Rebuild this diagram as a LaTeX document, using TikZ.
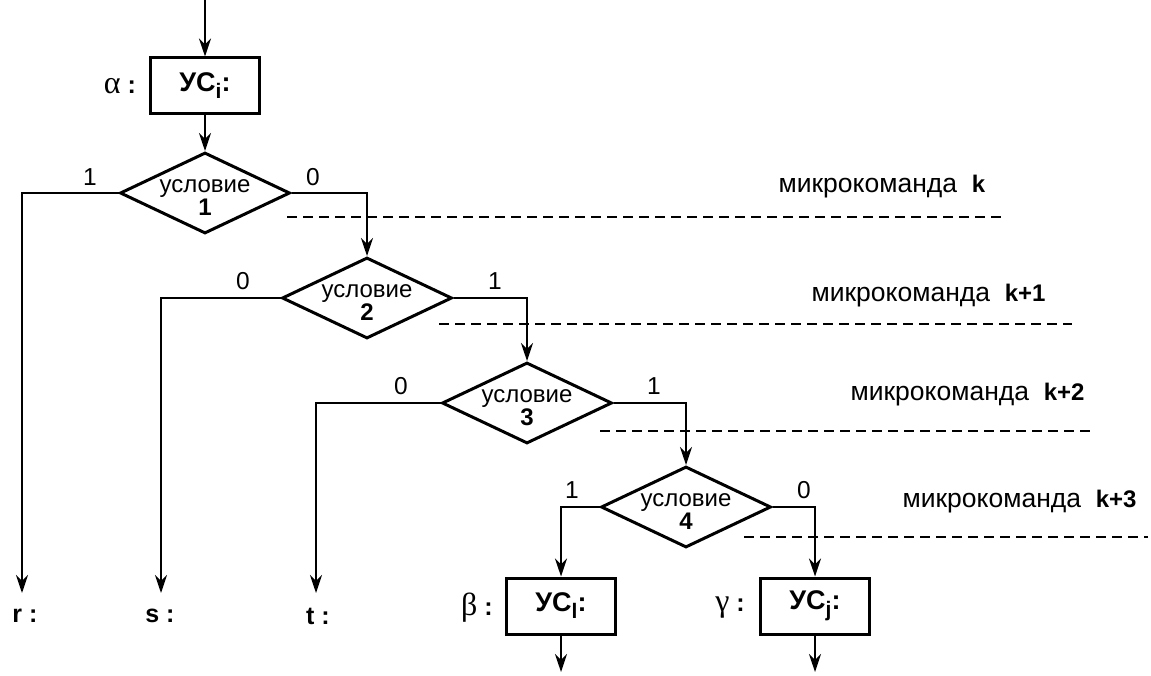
\documentclass[tikz,border=0pt]{standalone}
\usepackage{fontspec}
\setmainfont{Liberation Sans}
\newfontfamily\greekfont{Liberation Serif}
\usetikzlibrary{shapes.geometric,arrows.meta}

\newcommand{\lowsub}[1]{\raisebox{-7pt}{\fontsize{21}{21}\selectfont #1}}

\tikzset{
  cond/.style={diamond, draw, line width=3pt, minimum width=170pt,
    minimum height=81pt, inner sep=0pt},
  condtext/.style={align=center, font=\fontsize{24}{23}\selectfont, yshift=-5pt},
  ucbox/.style={rectangle, draw, line width=3pt, minimum width=109pt,
    minimum height=56pt, font=\fontsize{27}{27}\selectfont\bfseries},
  flow/.style={line width=1.7pt, -{Stealth[length=18pt,width=12pt,inset=6pt]}},
  bit/.style={font=\fontsize{24.5}{24}\selectfont},
  tag/.style={font=\fontsize{25}{25}\selectfont\bfseries},
  mk/.style={font=\fontsize{26.5}{26}\selectfont, anchor=west},
  cut/.style={line width=2pt, dash pattern=on 10pt off 6pt}
}

\begin{document}
\begin{tikzpicture}[x=1pt,y=-1pt]
\useasboundingbox (0,0) rectangle (1151,676);

% Entry block
\coordinate (in) at (205,0);
\node[ucbox] (ui) at (205,86) {УС\lowsub{i}:};
\node[tag] (alpha) at (120,86) {{\greekfont\mdseries\fontsize{32}{32}\selectfont α} :};
\draw[flow] (in) -- (ui.north);

% Condition 1
\node[cond, label={[condtext]center:{условие\\\textbf{1}}}] (c1) at (205,193) {};
\draw[flow] (ui.south) -- (c1.north);
\node[bit] (c1one) at (90,177) {1};
\node[bit] (c1zero) at (313,177) {0};

% Condition 2
\node[cond, label={[condtext]center:{условие\\\textbf{2}}}] (c2) at (367,298) {};
\node[bit] (c2zero) at (243,281) {0};
\node[bit] (c2one) at (495,281) {1};

% Condition 3
\node[cond, label={[condtext]center:{условие\\\textbf{3}}}] (c3) at (527,403) {};
\node[bit] (c3zero) at (401,386) {0};
\node[bit] (c3one) at (654,386) {1};

% Condition 4
\node[cond, label={[condtext]center:{условие\\\textbf{4}}}] (c4) at (686,507) {};
\node[bit] (c4one) at (572,490) {1};
\node[bit] (c4zero) at (804,490) {0};

% Exits
\coordinate (rend) at (22,593);
\coordinate (send) at (161,593);
\coordinate (tend) at (316,593);
\node[tag] (r) at (25,616) {r :};
\node[tag] (s) at (160,616) {s :};
\node[tag] (t) at (318,616) {t :};

% Target blocks
\node[ucbox] (ul) at (561,606) {УС\lowsub{l}:};
\node[ucbox] (uj) at (815,606) {УС\lowsub{j}:};
\node[tag] (beta) at (477,608) {{\greekfont\mdseries\fontsize{32}{32}\selectfont β} :};
\node[tag] (gamma) at (730,608) {{\greekfont\mdseries\fontsize{32}{32}\selectfont γ} :};
\coordinate (lout) at (561,672);
\coordinate (jout) at (815,672);

% Branches
\draw[flow] (c1.west) -| (rend);
\draw[flow] (c1.east) -| (c2.north);
\draw[flow] (c2.west) -| (send);
\draw[flow] (c2.east) -| (c3.north);
\draw[flow] (c3.west) -| (tend);
\draw[flow] (c3.east) -| (c4.north);
\draw[flow] (c4.west) -| (ul.north);
\draw[flow] (c4.east) -| (uj.north);
\draw[flow] (ul.south) -- (lout);
\draw[flow] (uj.south) -- (jout);

% Microcommand borders
\coordinate (m0a) at (287,217);
\coordinate (m0b) at (1005,217);
\coordinate (m1a) at (439,324);
\coordinate (m1b) at (1072,324);
\coordinate (m2a) at (600,431);
\coordinate (m2b) at (1095,431);
\coordinate (m3a) at (744,537);
\coordinate (m3b) at (1148,537);
\draw[cut] (m0a) -- (m0b);
\draw[cut] (m1a) -- (m1b);
\draw[cut] (m2a) -- (m2b);
\draw[cut] (m3a) -- (m3b);

% Microcommand names
\node[mk] (mk0) at (775,187) {микрокоманда\ \ \textbf{\fontsize{24}{24}\selectfont k}};
\node[mk] (mk1) at (808,296) {микрокоманда\ \ \textbf{\fontsize{24}{24}\selectfont k+1}};
\node[mk] (mk2) at (847,395) {микрокоманда\ \ \textbf{\fontsize{24}{24}\selectfont k+2}};
\node[mk] (mk3) at (899,502) {микрокоманда\ \ \textbf{\fontsize{24}{24}\selectfont k+3}};
\end{tikzpicture}
\end{document}
